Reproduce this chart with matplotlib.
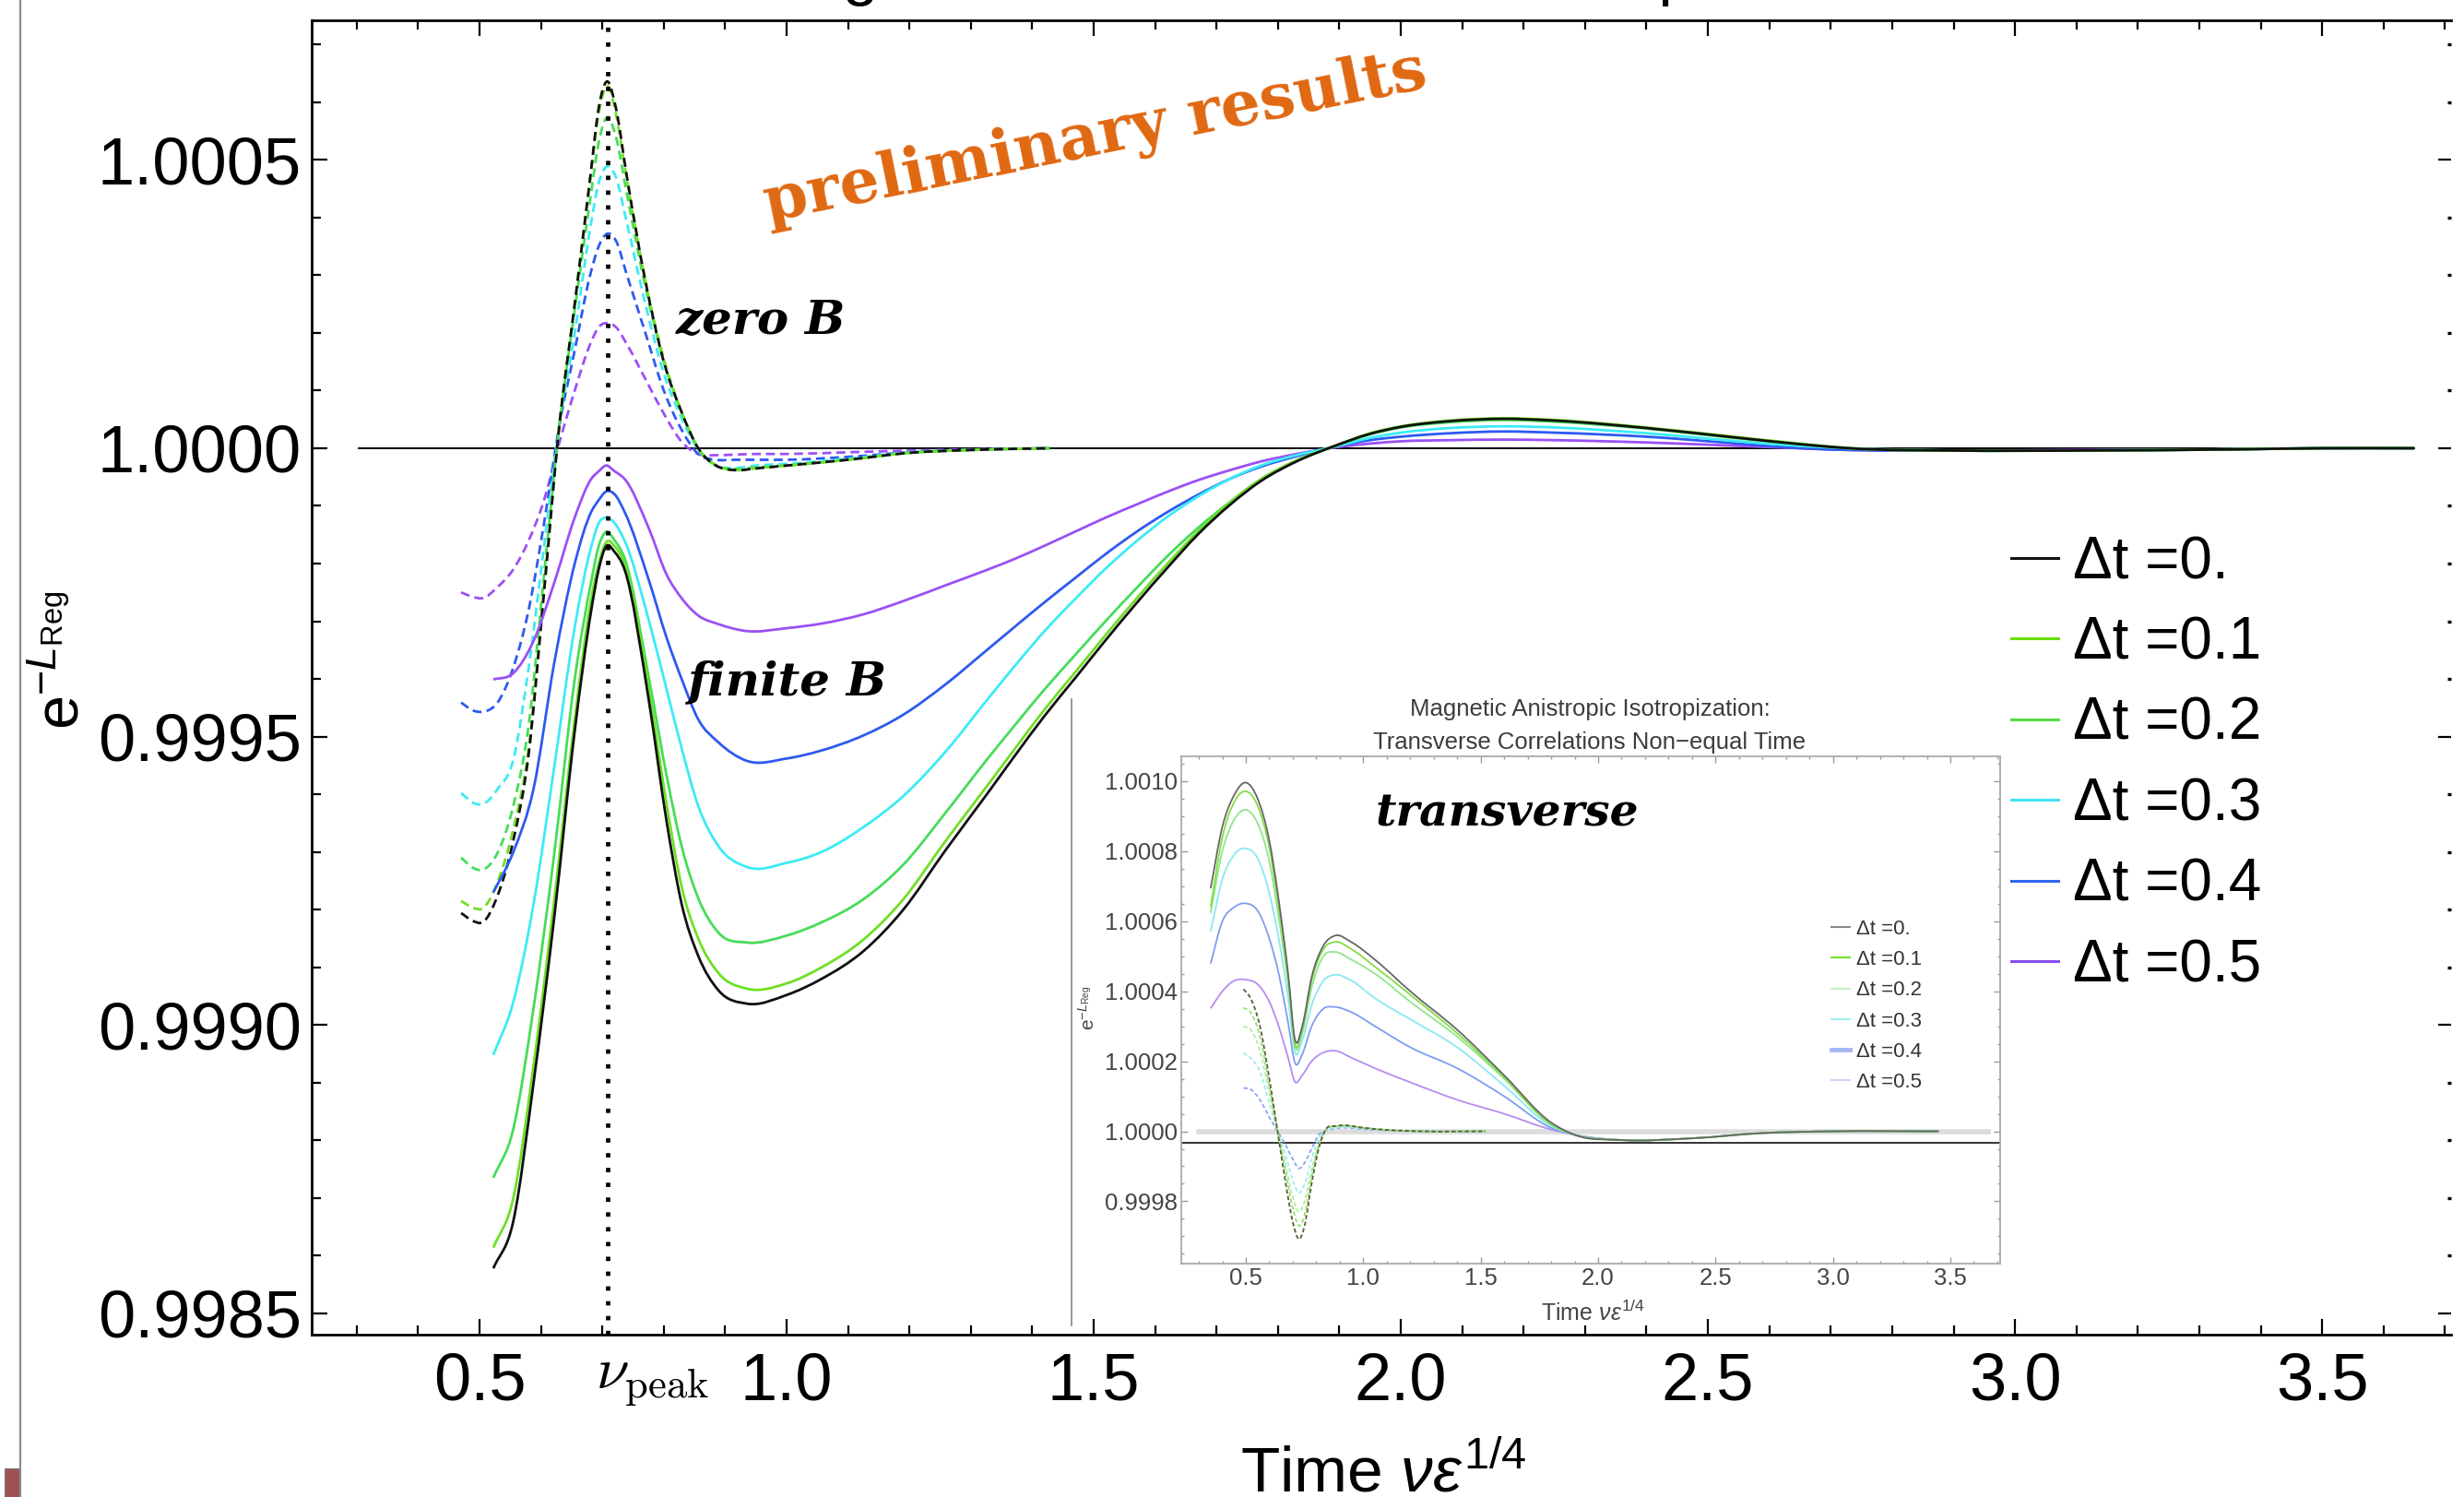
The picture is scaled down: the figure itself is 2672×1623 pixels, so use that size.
import numpy as np
import matplotlib
matplotlib.use("Agg")
import matplotlib.pyplot as plt
from matplotlib.lines import Line2D
from matplotlib.path import Path
from matplotlib.patches import Rectangle, PathPatch
from matplotlib.ticker import MultipleLocator, FormatStrFormatter

plt.rcParams["font.family"] = ["Liberation Sans", "DejaVu Sans"]
plt.rcParams["mathtext.fontset"] = "custom"
plt.rcParams["mathtext.rm"] = "Liberation Sans"
plt.rcParams["mathtext.it"] = "Liberation Sans:italic"
plt.rcParams["mathtext.bf"] = "Liberation Sans:bold"

# ---------------------------------------------------------------- data
DT_LABELS = ["Δt =0.", "Δt =0.1", "Δt =0.2", "Δt =0.3", "Δt =0.4", "Δt =0.5"]
NU_PEAK = 0.708
REF_LEVEL = 1.0
REF_X = [0.303, 3.65]

# finite B (solid) curves, main panel
X_FINITE = [0.5225, 0.555, 0.588, 0.622, 0.655, 0.682, 0.694, 0.706, 0.72, 0.736,
            0.776, 0.805, 0.829, 0.856, 0.889, 0.935, 1.0, 1.057, 1.125, 1.19,
            1.258, 1.326, 1.371, 1.42, 1.471, 1.52, 1.571, 1.621, 1.671, 1.722,
            1.772, 1.83, 1.89, 1.95, 2.0, 2.08, 2.168, 2.25, 2.4, 2.55,
            2.65, 2.73, 2.9, 3.1, 3.35, 3.5, 3.65]
FINITE_DT00 = [0.998578, 0.99866, 0.99890, 0.99919, 0.99951, 0.99972, 0.99979, 0.99983, 0.99982, 0.99979,
               0.99956, 0.99935, 0.99921, 0.99912, 0.99906, 0.999037, 0.999052, 0.99908, 0.999128, 0.9992,
               0.999302, 0.9994, 0.999466, 0.999536, 0.999603, 0.999668, 0.999733, 0.999794, 0.999852, 0.999902,
               0.999943, 0.999977, 1.000003, 1.000025, 1.000037, 1.000047, 1.000051, 1.000048, 1.000035, 1.000018,
               1.000007, 1.0, 0.999996, 0.999996, 0.999998, 1.0, 1.0]
FINITE_DT01 = [0.998614, 0.99870, 0.99893, 0.99922, 0.99953, 0.99974, 0.99980, 0.999837, 0.99983, 0.99980,
               0.99958, 0.99938, 0.99924, 0.99915, 0.99909, 0.999063, 0.999072, 0.9991, 0.999148, 0.999218,
               0.999318, 0.999414, 0.999478, 0.999547, 0.999613, 0.999677, 0.999741, 0.999801, 0.999857, 0.999906,
               0.999946, 0.999979, 1.000003, 1.000026, 1.000038, 1.000048, 1.000052, 1.000049, 1.000036, 1.000019,
               1.000008, 1.0, 0.999996, 0.999996, 0.999998, 1.0, 1.0]
FINITE_DT02 = [0.998735, 0.99882, 0.99903, 0.99930, 0.99960, 0.99977, 0.99983, 0.999855, 0.99984, 0.99981,
               0.99960, 0.99943, 0.99931, 0.99922, 0.99916, 0.999143, 0.999155, 0.999178, 0.999218, 0.999278,
               0.999367, 0.99946, 0.999519, 0.999582, 0.999643, 0.999701, 0.999759, 0.999814, 0.999863, 0.999907,
               0.999946, 0.999978, 1.000003, 1.000024, 1.000036, 1.000045, 1.000049, 1.000046, 1.000034, 1.000017,
               1.000007, 1.0, 0.999996, 0.999996, 0.999998, 1.0, 1.0]
FINITE_DT03 = [0.998948, 0.99904, 0.99921, 0.99945, 0.99969, 0.99983, 0.99987, 0.99988, 0.99987, 0.99984,
               0.99970, 0.99958, 0.99948, 0.99938, 0.99931, 0.999274, 0.999281, 0.9993, 0.999343, 0.999397,
               0.999473, 0.999563, 0.999622, 0.999683, 0.99974, 0.999792, 0.99984, 0.999882, 0.999917, 0.999947,
               0.99997, 0.999988, 1.000002, 1.000018, 1.000027, 1.000035, 1.000038, 1.000036, 1.000026, 1.000012,
               1.000004, 1.0, 0.999996, 0.999996, 0.999998, 1.0, 1.0]
FINITE_DT04 = [0.99923, 0.99930, 0.99941, 0.99963, 0.99980, 0.99989, 0.99991, 0.999925, 0.99992, 0.99989,
               0.99977, 0.99967, 0.9996, 0.99953, 0.99949, 0.999458, 0.999462, 0.999476, 0.999502, 0.999538,
               0.99959, 0.99965, 0.99969, 0.999733, 0.999776, 0.999817, 0.999856, 0.99989, 0.99992, 0.999947,
               0.999968, 0.999986, 1.000002, 1.000014, 1.00002, 1.000026, 1.000029, 1.000027, 1.00002, 1.000008,
               1.0, 0.999997, 0.999996, 0.999996, 0.999998, 1.0, 1.0]
FINITE_DT05 = [0.999599, 0.99961, 0.999666, 0.999768, 0.99988, 0.999947, 0.99996, 0.99997, 0.99996, 0.999947,
               0.99986, 0.99978, 0.99974, 0.99971, 0.999695, 0.999683, 0.999688, 0.999696, 0.999712, 0.999735,
               0.999762, 0.999789, 0.999808, 0.999831, 0.999856, 0.99988, 0.999903, 0.999925, 0.999945, 0.999962,
               0.999977, 0.99999, 1.000001, 1.000008, 1.000012, 1.000014, 1.000015, 1.000014, 1.00001, 1.000004,
               1.0, 0.999997, 0.999996, 0.999997, 0.999998, 1.0, 1.0]

# zero B (dashed) curves, main panel
X_ZERO = [0.47, 0.49, 0.505, 0.53, 0.555, 0.58, 0.605, 0.63, 0.655, 0.68,
          0.694, 0.708, 0.722, 0.74, 0.77, 0.80, 0.83, 0.856, 0.885, 0.916,
          0.95, 1.0, 1.1, 1.2, 1.3, 1.428]
ZERO_DT00 = [0.999194, 0.99918, 0.999178, 0.999226, 0.99932, 0.99947, 0.99975, 1.00004, 1.00025, 1.000468,
             1.00059, 1.000636, 1.00059, 1.00047, 1.00029, 1.00015, 1.00006, 1.0, 0.99997, 0.999962,
             0.999965, 0.99997, 0.99998, 0.999992, 0.999997, 1.0]
ZERO_DT01 = [0.999215, 0.999203, 0.999202, 0.99925, 0.99934, 0.99948, 0.99976, 1.00004, 1.00025, 1.000465,
             1.00058, 1.000628, 1.00058, 1.000465, 1.00029, 1.000155, 1.00006, 1.0, 0.99997, 0.999962,
             0.999965, 0.99997, 0.99998, 0.999992, 0.999997, 1.0]
ZERO_DT02 = [0.99929, 0.999272, 0.999269, 0.9993, 0.99938, 0.99952, 0.99978, 1.00004, 1.00024, 1.00043,
             1.00053, 1.000574, 1.00054, 1.00044, 1.00028, 1.00015, 1.00006, 1.0, 0.99997, 0.999964,
             0.999967, 0.99997, 0.99998, 0.999992, 0.999997, 1.0]
ZERO_DT03 = [0.999402, 0.999385, 0.999383, 0.99941, 0.99946, 0.99962, 0.99983, 1.00004, 1.0002, 1.00038,
             1.00046, 1.000489, 1.00047, 1.00039, 1.00025, 1.00013, 1.00005, 0.999998, 0.99997, 0.999966,
             0.99997, 0.999973, 0.999982, 0.999993, 0.999997, 1.0]
ZERO_DT04 = [0.999559, 0.999545, 0.999543, 0.99956, 0.99962, 0.99972, 0.99987, 1.00004, 1.00017, 1.0003,
             1.00035, 1.000372, 1.00036, 1.0003, 1.0002, 1.0001, 1.00003, 0.99999, 0.99998, 0.99998,
             0.99998, 0.99998, 0.999985, 0.999993, 0.999997, 1.0]
ZERO_DT05 = [0.99975, 0.999742, 0.99974, 0.99976, 0.99979, 0.99984, 0.99991, 1.00001, 1.0001, 1.00018,
             1.00021, 1.000217, 1.00021, 1.00018, 1.00012, 1.00006, 1.00001, 0.99999, 0.999988, 0.999989,
             0.99999, 0.99999, 0.999993, 0.999996, 0.999998, 1.0]

# transverse correlations (inset), solid curves
X_TRANS = [0.35, 0.40, 0.45, 0.50, 0.55, 0.60, 0.64, 0.68, 0.71, 0.74,
           0.78, 0.83, 0.88, 0.95, 1.05, 1.2, 1.4, 1.6, 1.8, 1.9,
           2.1, 2.4, 2.7, 3.0, 3.45]
TRANS_DT00 = [1.000694, 1.00087, 1.00096, 1.000996, 1.00095, 1.00083, 1.00066, 1.00045, 1.00026, 1.00030,
              1.00044, 1.00053, 1.000559, 1.00054, 1.00049, 1.0004, 1.00029, 1.00016, 1.000025, 0.99999,
              0.999975, 0.99998, 0.999995, 1.0, 1.0]
TRANS_DT01 = [1.000641, 1.00084, 1.00094, 1.000971, 1.00093, 1.00081, 1.00064, 1.00044, 1.000247, 1.00029,
              1.00043, 1.00052, 1.000541, 1.00052, 1.00047, 1.00039, 1.00028, 1.000155, 1.00002, 0.99999,
              0.999975, 0.99998, 0.999995, 1.0, 1.0]
TRANS_DT02 = [1.000624, 1.0008, 1.00089, 1.000918, 1.00088, 1.00077, 1.00061, 1.00042, 1.00024, 1.00028,
              1.00041, 1.0005, 1.000512, 1.00049, 1.00045, 1.00037, 1.00027, 1.00015, 1.00002, 0.99999,
              0.999975, 0.99998, 0.999995, 1.0, 1.0]
TRANS_DT03 = [1.000571, 1.00072, 1.00079, 1.000808, 1.00078, 1.00068, 1.00055, 1.00038, 1.000224, 1.00026,
              1.00036, 1.00043, 1.000447, 1.00043, 1.00038, 1.00032, 1.00024, 1.00013, 1.000015, 0.99999,
              0.999975, 0.99998, 0.999995, 1.0, 1.0]
TRANS_DT04 = [1.000479, 1.0006, 1.00064, 1.000651, 1.00063, 1.00055, 1.00045, 1.00031, 1.000194, 1.00022,
              1.0003, 1.00035, 1.000355, 1.00034, 1.0003, 1.00024, 1.00018, 1.0001, 1.00001, 0.99999,
              0.999975, 0.99998, 0.999995, 1.0, 1.0]
TRANS_DT05 = [1.000351, 1.0004, 1.00043, 1.000433, 1.00042, 1.00037, 1.0003, 1.00021, 1.000141, 1.00016,
              1.0002, 1.000225, 1.00023, 1.00021, 1.00018, 1.00014, 1.00009, 1.00005, 1.000005, 0.99999,
              0.999975, 0.99998, 0.999995, 1.0, 1.0]

# transverse correlations (inset), dashed curves
X_TRANS_ZERO = [0.49, 0.52, 0.56, 0.60, 0.635, 0.67, 0.70, 0.727, 0.75, 0.78,
                0.81, 0.84, 0.88, 0.92, 1.0, 1.1, 1.25, 1.52]
TRANS_ZERO_DT00 = [1.000406, 1.00038, 1.0003, 1.00015, 1.0, 0.99985, 0.99974, 0.999692, 0.99973, 0.99985,
                   0.99995, 1.000005, 1.000015, 1.000017, 1.00001, 1.000004, 1.0, 1.0]
TRANS_ZERO_DT01 = [1.000353, 1.00034, 1.00027, 1.00013, 1.0, 0.99988, 0.99978, 0.99973, 0.99976, 0.99987,
                   0.99996, 1.000005, 1.000014, 1.000016, 1.00001, 1.000004, 1.0, 1.0]
TRANS_ZERO_DT02 = [1.0003, 1.00029, 1.00023, 1.00011, 1.0, 0.9999, 0.99981, 0.99977, 0.9998, 0.99989,
                   0.99996, 1.000004, 1.000013, 1.000015, 1.00001, 1.000004, 1.0, 1.0]
TRANS_ZERO_DT03 = [1.000224, 1.00021, 1.00017, 1.00008, 1.0, 0.99993, 0.99986, 0.999824, 0.99985, 0.99992,
                   0.99998, 1.000003, 1.00001, 1.000012, 1.000008, 1.000003, 1.0, 1.0]
TRANS_ZERO_DT04 = [1.000124, 1.00012, 1.00009, 1.00004, 1.0, 0.99996, 0.99992, 0.999894, 0.99991, 0.99995,
                   0.99999, 1.000002, 1.000008, 1.00001, 1.000006, 1.000002, 1.0, 1.0]
INSET_REF_X = [0.30, 3.66]
INSET_AXIS_LEVEL = 0.999967

# ---------------------------------------------------------------- styles
COLORS = ["#111111", "#6fe024", "#46dc5a", "#3cebf5", "#2d5af0", "#9b50f5"]
LEGEND_COLORS = ["#111111", "#66dd00", "#55dd44", "#44e4f0", "#3366ee", "#8850ee"]
INSET_COLORS = ["#666666", "#84dc44", "#8fe68a", "#8ae8f0", "#7f9cf0", "#b68cf0"]
INSET_DASH_COLORS = ["#5c5c36", "#92e070", "#b2eca0", "#9ceef0", "#8aa6f0"]
INSET_LEGEND_COLORS = ["#8a8a8a", "#77dd33", "#c4f2c4", "#9ff0f0", "#a6b8f2", "#dccdf8"]
ORANGE = "#e06812"

W, H, DPI = 2672, 1623, 100


def fx(px):
    return px / W


def fy(py):
    return 1.0 - py / H


def smooth_path(xs, ys):
    """Cubic Hermite path through the sampled points (drawn as Bezier segments)."""
    x = np.asarray(xs, float)
    y = np.asarray(ys, float)
    h = np.diff(x)
    d = np.diff(y) / h
    m = np.empty_like(y)
    m[0], m[-1] = d[0], d[-1]
    m[1:-1] = (d[:-1] * h[1:] + d[1:] * h[:-1]) / (h[:-1] + h[1:])
    verts = [(x[0], y[0])]
    codes = [Path.MOVETO]
    for i in range(len(h)):
        verts += [(x[i] + h[i] / 3, y[i] + m[i] * h[i] / 3),
                  (x[i + 1] - h[i] / 3, y[i + 1] - m[i + 1] * h[i] / 3),
                  (x[i + 1], y[i + 1])]
        codes += [Path.CURVE4] * 3
    return Path(verts, codes)


def draw_curve(axis, xs, ys, **kw):
    axis.add_patch(PathPatch(smooth_path(xs, ys), fill=False, **kw))


fig = plt.figure(figsize=(W / DPI, H / DPI), dpi=DPI)
fig.patch.set_facecolor("white")

# ---------------------------------------------------------------- main panel
ax = fig.add_axes([fx(338), fy(1447), (2658 - 338) / W, (1447 - 22) / H])
ax.set_xlim(0.2267, 3.710)
ax.set_ylim(0.998463, 1.000742)

finite = [FINITE_DT00, FINITE_DT01, FINITE_DT02, FINITE_DT03, FINITE_DT04, FINITE_DT05]
zero = [ZERO_DT00, ZERO_DT01, ZERO_DT02, ZERO_DT03, ZERO_DT04, ZERO_DT05]

ax.plot(REF_X, [REF_LEVEL, REF_LEVEL], color="black", lw=1.4, zorder=1)
for ys, c in zip(zero[::-1], COLORS[::-1]):
    draw_curve(ax, X_ZERO, ys, edgecolor=c, lw=2.0, linestyle=(0, (3.5, 2.0)), zorder=2)
for ys, c in zip(finite[::-1], COLORS[::-1]):
    draw_curve(ax, X_FINITE, ys, edgecolor=c, lw=2.0, zorder=3)
ax.axvline(NU_PEAK, color="black", lw=3.4, ls=(0, (1, 2.4)), zorder=4)

ax.xaxis.set_major_locator(MultipleLocator(0.5))
ax.xaxis.set_minor_locator(MultipleLocator(0.1))
ax.yaxis.set_major_locator(MultipleLocator(0.0005))
ax.yaxis.set_minor_locator(MultipleLocator(0.0001))
ax.xaxis.set_major_formatter(FormatStrFormatter("%.1f"))
ax.yaxis.set_major_formatter(FormatStrFormatter("%.4f"))
ax.tick_params(which="both", direction="in", top=True, right=False, width=1.6)
ax.tick_params(which="major", length=12, labelsize=52)
ax.tick_params(which="minor", length=7)
ax.tick_params(axis="x", which="major", pad=13)
ax.tick_params(axis="y", which="major", pad=8)
for side in ("left", "bottom", "top"):
    ax.spines[side].set_linewidth(2.0)
ax.spines["right"].set_visible(False)

sec = ax.secondary_yaxis("right")
sec.spines["right"].set_visible(False)
sec.yaxis.set_major_locator(MultipleLocator(0.0005))
sec.yaxis.set_minor_locator(MultipleLocator(0.0001))
sec.tick_params(which="major", direction="in", length=10, width=1.6, labelright=False)
sec.tick_params(which="minor", direction="in", length=3, width=2.4)

handles = [Line2D([], [], color=c, lw=2.2) for c in LEGEND_COLORS]
ax.legend(handles, DT_LABELS, loc="upper left", bbox_to_anchor=(fx(2181), fy(580)),
          bbox_transform=fig.transFigure, frameon=False, fontsize=46,
          handlelength=0.8, handletextpad=0.25, labelspacing=0.43,
          borderpad=0, borderaxespad=0)

# axis labels and annotations
fig.text(fx(68), fy(716), r"$\mathrm{e}^{-L_{\mathrm{Reg}}}$", rotation=90,
         ha="center", va="center", fontsize=48)
fig.text(fx(1500), fy(1617), r"Time $\nu\epsilon^{1/4}$", ha="center", va="baseline",
         fontsize=50)
fig.text(fx(646), fy(1505), r"$\nu_{\rm peak}$", ha="left", va="baseline", fontsize=46,
         math_fontfamily="cm")
fig.text(fx(1437), fy(-7), "Longitudinal Correlations Non-equal Time", ha="center",
         va="baseline", fontsize=50)
fig.text(fx(733), fy(362), "zero B", ha="left", va="baseline", fontsize=37,
         family="DejaVu Serif", weight="bold", style="italic")
fig.text(fx(745), fy(753), "finite B", ha="left", va="baseline", fontsize=37,
         family="DejaVu Serif", weight="bold", style="italic")
fig.text(fx(1188), fy(150), "preliminary results", ha="center", va="center",
         rotation=11.5, rotation_mode="anchor", fontsize=49, color=ORANGE,
         family="DejaVu Serif", weight="bold")

# page border remnants
fig.add_artist(Line2D([fx(22), fx(22)], [0, 1], color="#8a8a8a", lw=1.5))
fig.add_artist(Rectangle((fx(5), 0), 16 / W, 31 / H, transform=fig.transFigure,
                         facecolor="#a05050", edgecolor="#777777", lw=0.8))

# ---------------------------------------------------------------- inset
fig.add_artist(Line2D([fx(1162), fx(1162)], [fy(758), fy(1437)], color="#888888", lw=1.2))
axi = fig.add_axes([fx(1281), fy(1370), (2169 - 1281) / W, (1370 - 820) / H])
axi.set_facecolor("white")
axi.set_xlim(0.225, 3.712)
axi.set_ylim(0.999622, 1.001071)

trans = [TRANS_DT00, TRANS_DT01, TRANS_DT02, TRANS_DT03, TRANS_DT04, TRANS_DT05]
trans_zero = [TRANS_ZERO_DT00, TRANS_ZERO_DT01, TRANS_ZERO_DT02, TRANS_ZERO_DT03, TRANS_ZERO_DT04]

axi.plot(INSET_REF_X, [REF_LEVEL, REF_LEVEL], color="#dcdcdc", lw=4.0, zorder=1)
axi.axhline(INSET_AXIS_LEVEL, color="#333333", lw=1.4, zorder=1)
for ys, c in zip(trans[::-1], INSET_COLORS[::-1]):
    draw_curve(axi, X_TRANS, ys, edgecolor=c, lw=1.3, zorder=3)
for ys, c in zip(trans_zero[::-1], INSET_DASH_COLORS[::-1]):
    draw_curve(axi, X_TRANS_ZERO, ys, edgecolor=c, lw=1.3, linestyle=(0, (2.5, 1.5)), zorder=2)

axi.xaxis.set_major_locator(MultipleLocator(0.5))
axi.xaxis.set_minor_locator(MultipleLocator(0.1))
axi.yaxis.set_major_locator(MultipleLocator(0.0002))
axi.yaxis.set_minor_locator(MultipleLocator(0.00005))
axi.xaxis.set_major_formatter(FormatStrFormatter("%.1f"))
axi.yaxis.set_major_formatter(FormatStrFormatter("%.4f"))
axi.tick_params(which="both", direction="in", top=True, right=True, color="#999999",
                labelcolor="#444444", width=1.0)
axi.tick_params(which="major", length=5, labelsize=18.5, pad=3)
axi.tick_params(which="minor", length=2.5)
for s in axi.spines.values():
    s.set_color("#aaaaaa")
    s.set_linewidth(1.3)

ihandles = [Line2D([], [], color=c, lw=(3.5 if i == 4 else 1.5))
            for i, c in enumerate(INSET_LEGEND_COLORS)]
axi.legend(ihandles, DT_LABELS, loc="upper left", bbox_to_anchor=(fx(1986), fy(997)),
           bbox_transform=fig.transFigure, frameon=False, fontsize=16,
           handlelength=0.9, handletextpad=0.3, labelspacing=0.55,
           borderpad=0, borderaxespad=0, labelcolor="#333333")

fig.text(fx(1724), fy(769), "Magnetic Anistropic Isotropization:", ha="center", va="center",
         fontsize=18.5, color="#3c3c3c")
fig.text(fx(1724), fy(805), "Transverse Correlations Non\u2212equal Time", ha="center",
         va="center", fontsize=18.5, color="#3c3c3c")
fig.text(fx(1727), fy(1423), r"Time $\nu\epsilon^{1/4}$", ha="center", va="center",
         fontsize=18, color="#444444")
fig.text(fx(1180), fy(1093), r"$\mathrm{e}^{-L_{\mathrm{Reg}}}$", rotation=90, ha="center",
         va="center", fontsize=15, color="#444444")
fig.text(fx(1492), fy(896), "transverse", ha="left", va="baseline", fontsize=35,
         family="DejaVu Serif", weight="bold", style="italic")

fig.savefig("out.png", dpi=DPI)
